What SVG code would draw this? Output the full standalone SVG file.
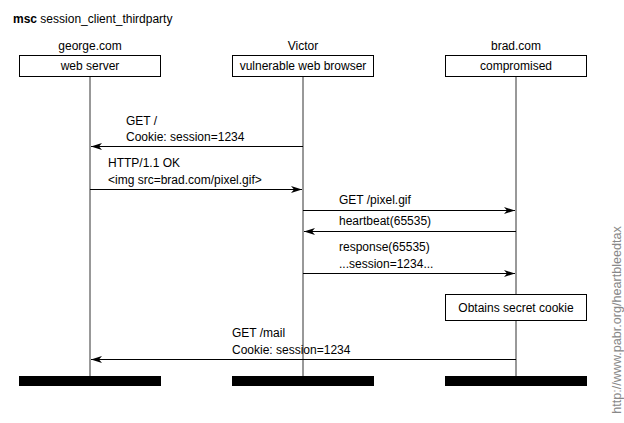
<svg xmlns="http://www.w3.org/2000/svg" width="624" height="423" viewBox="0 0 624 423">
<defs>
<marker id="ah" markerWidth="12" markerHeight="8" refX="11" refY="4" orient="auto" markerUnits="userSpaceOnUse">
<path d="M0,0.5 L11,4 L0,7.5 L3,4 Z" fill="#000"/>
</marker>
</defs>
<style>
text{font-family:"Liberation Sans",Arial,sans-serif;font-size:12px;fill:#000}
.c{text-anchor:middle}
.box{fill:#fff;stroke:#000;stroke-width:1}
.life{stroke:#333;stroke-width:1}
.bar{fill:#000}
.msg{stroke:#000;stroke-width:1;fill:none;marker-end:url(#ah)}
.url{fill:#888;font-size:12.6px}
</style>
<rect width="624" height="423" fill="#fff"/>
<text x="13" y="23"><tspan font-weight="bold">msc</tspan> session_client_thirdparty</text>
<g id="george">
<text class="c" x="90" y="50">george.com</text>
<line class="life" x1="90" y1="76" x2="90" y2="377"/>
<rect class="box" x="19.5" y="55.5" width="141" height="21"/>
<text class="c" x="90" y="70">web server</text>
<rect class="bar" x="19" y="376" width="142" height="10"/>
</g>
<g id="victor">
<text class="c" x="303" y="50">Victor</text>
<line class="life" x1="303" y1="76" x2="303" y2="377"/>
<rect class="box" x="232.5" y="55.5" width="141" height="21"/>
<text class="c" x="303" y="70">vulnerable web browser</text>
<rect class="bar" x="232" y="376" width="142" height="10"/>
</g>
<g id="brad">
<text class="c" x="516" y="50">brad.com</text>
<line class="life" x1="516" y1="76" x2="516" y2="377"/>
<rect class="box" x="445.5" y="55.5" width="141" height="21"/>
<text class="c" x="516" y="70">compromised</text>
<rect class="bar" x="445" y="376" width="142" height="10"/>
</g>
<g id="action">
<rect class="box" x="445.5" y="294.5" width="141" height="26"/>
<text class="c" x="516" y="312">Obtains secret cookie</text>
</g>
<g id="connectors">
<line class="msg" x1="303" y1="146.5" x2="91" y2="146.5"/>
<text x="126" y="125">GET /</text>
<text x="126" y="141">Cookie: session=1234</text>
<line class="msg" x1="90" y1="189.5" x2="302" y2="189.5"/>
<text x="108" y="167">HTTP/1.1 OK</text>
<text x="108" y="184">&lt;img src=brad.com/pixel.gif&gt;</text>
<line class="msg" x1="303" y1="210.5" x2="515" y2="210.5"/>
<text x="339" y="204">GET /pixel.gif</text>
<line class="msg" x1="516" y1="231.5" x2="304" y2="231.5"/>
<text x="339" y="225">heartbeat(65535)</text>
<line class="msg" x1="303" y1="273.5" x2="515" y2="273.5"/>
<text x="339" y="251">response(65535)</text>
<text x="339" y="268">...session=1234...</text>
<line class="msg" x1="516" y1="359.5" x2="91" y2="359.5"/>
<text x="232" y="337">GET /mail</text>
<text x="232" y="354">Cookie: session=1234</text>
</g>
<text x="621" y="320" class="c url" transform="rotate(-90 621 320)">http://www.pabr.org/heartbleedtax</text>
</svg>
